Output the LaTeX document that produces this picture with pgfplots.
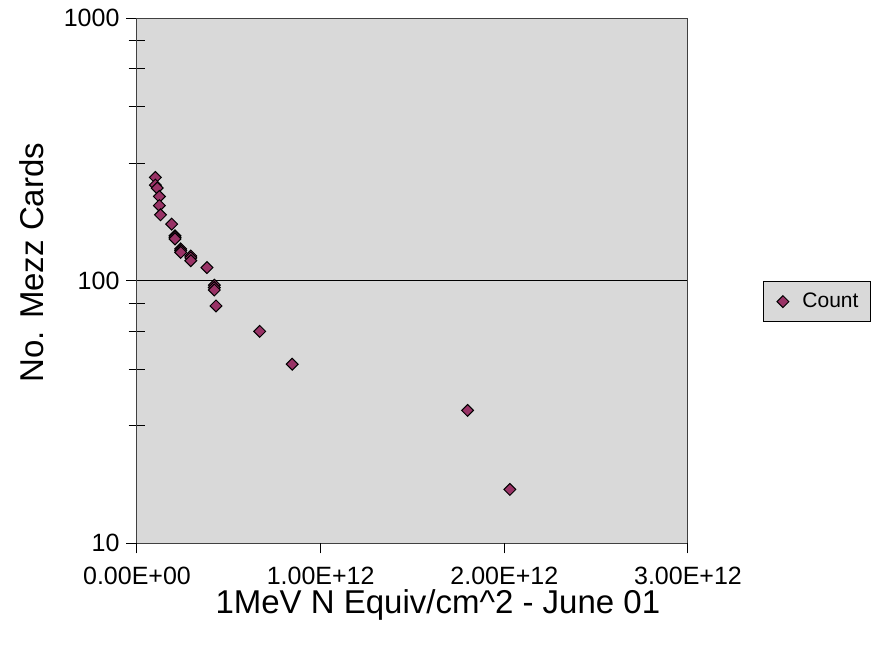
\documentclass[border=0pt]{standalone}
\usepackage{pgfplots}
\pgfplotsset{compat=1.18}
\usepackage{fontspec}
\setmainfont{Liberation Sans}
\definecolor{plotgray}{HTML}{D9D9D9}
\definecolor{mezz}{HTML}{993366}

\begin{document}
\begin{tikzpicture}
\useasboundingbox[fill=white] (-68.5pt,-50.5pt) rectangle (370.5pt,271.5pt);
\begin{axis}[
  at={(0pt,0pt)}, anchor=south west,
  scale only axis, width=275.5pt, height=262.5pt,
  xmin=0, xmax=3e12,
  ymode=log, ymin=10, ymax=1000,
  tick pos=left,
  xtick=\empty,
  extra x ticks={0,1e12,2e12,3e12},
  extra x tick labels={0.00E+00,1.00E+12,2.00E+12,3.00E+12},
  extra x tick style={tick align=outside, major tick length=5.25pt, grid=none, tick pos=left},
  scaled x ticks=false,
  ytick={10,100,1000}, yticklabels={10,100,1000},
  minor ytick={28,46,64,82,280,460,640,820},
  ytick align=center,
  major tick length=10.5pt, minor tick length=8.3pt,
  tick style={black, line width=0.5pt},
  ymajorgrids, grid style={black, line width=0.5pt},
  axis background/.style={fill=plotgray},
  axis line style={black!75, line width=0.5pt},
  tick label style={font=\fontsize{12.5}{14}\selectfont},
  xticklabel style={yshift=-3pt},
  xlabel={1MeV N Equiv/cm\textasciicircum 2 - June 01},
  ylabel={No. Mezz Cards},
  label style={font=\fontsize{16.5}{19}\selectfont},
  xlabel style={at={(axis description cs:0.546,-0.118)}, anchor=center},
  ylabel style={at={(axis description cs:-0.1906,0.534)}, anchor=center, rotate=0},
  legend style={at={(axis description cs:1.136,0.421)}, anchor=south west,
    fill=plotgray, draw=black, line width=0.5pt,
    font=\fontsize{10.5}{12}\selectfont, inner xsep=4pt, inner ysep=3.5pt},
  legend image code/.code={\path (0pt,0pt) (13pt,0pt);
    \draw[#1] plot coordinates {(5.5pt,0pt)};},
]
\addplot[only marks, mark=square*, mark size=2.1pt,
  mark options={rotate=45, fill=mezz, draw=black, line width=0.5pt}]
table {
x        y
1.00e11  247
1.00e11  231
1.10e11  225
1.22e11  209
1.22e11  193
1.28e11  178
1.89e11  164
2.07e11  148
2.07e11  146
2.07e11  144
2.38e11  132
2.38e11  130
2.38e11  128
2.93e11  124
2.93e11  122
2.93e11  119
3.81e11  112
4.21e11  96
4.21e11  94
4.21e11  92
4.30e11  80
6.68e11  64
8.45e11  48
1.80e12  32
2.03e12  16
};
\addlegendentry{Count}
\end{axis}
\end{tikzpicture}
\end{document}
